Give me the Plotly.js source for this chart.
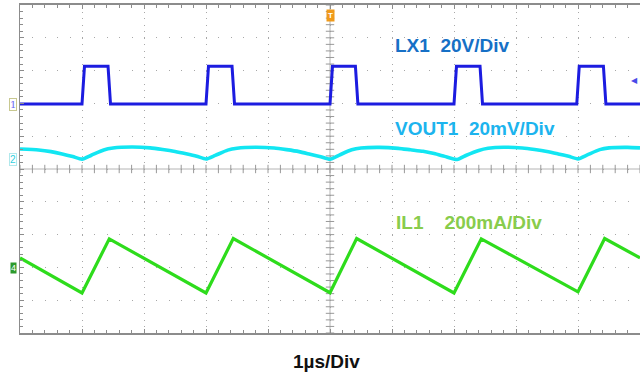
<!DOCTYPE html>
<html>
<head>
<meta charset="utf-8">
<script src="https://cdn.plot.ly/plotly-3.0.1.min.js"></script>
<style>html,body{margin:0;padding:0;background:#fff;}#chart{width:641px;height:377px;}</style>
</head>
<body>
<div id="chart"></div>
<script>
// Time axis: microseconds (1 µs/div)
const lxTime = [0, 1.00, 1.04, 1.42, 1.46, 3.00, 3.04, 3.42, 3.46, 5.00, 5.04, 5.41, 5.45, 7.00, 7.04, 7.42, 7.46, 8.98, 9.02, 9.41, 9.45, 10];
const lxVolts = [0, 0, 23, 23, 0, 0, 23, 23, 0, 0, 23, 23, 0, 0, 23, 23, 0, 0, 23, 23, 0, 0];

const voutTime = [0, 0.3, 0.5, 0.68, 0.85, 1.0, 1.15, 1.35, 1.5, 1.8, 2.1, 2.3, 2.5, 2.68, 2.85, 3.0, 3.15, 3.35, 3.5, 3.8, 4.1, 4.3, 4.5, 4.68, 4.85, 5.0, 5.15, 5.35, 5.5, 5.8, 6.1, 6.3, 6.5, 6.68, 6.85, 7.05, 7.2, 7.4, 7.55, 7.8, 8.1, 8.3, 8.5, 8.68, 8.85, 9.0, 9.15, 9.35, 9.5, 9.8, 10.0];
const voutMv = [6.2, 5.6, 4.6, 3.2, 1.6, 0.0, 2.4, 5.6, 6.8, 7.4, 6.9, 5.9, 4.7, 3.3, 1.8, 0.1, 2.3, 5.5, 6.7, 7.3, 6.8, 5.8, 4.6, 3.0, 1.5, 0.0, 2.5, 5.7, 6.8, 7.2, 6.6, 5.7, 4.8, 3.4, 1.7, -0.2, 2.4, 5.3, 6.6, 7.3, 6.8, 5.9, 4.7, 3.2, 1.7, 0.2, 2.6, 5.8, 6.9, 7.2, 6.9];

const ilTime = [0, 1.0, 1.44, 3.0, 3.44, 5.0, 5.43, 7.0, 7.44, 9.0, 9.43, 10];
const ilMa = [62, -152, 178, -152, 180, -150, 180, -152, 178, -145, 180, 62];

// channel scales (per division) and screen offsets (divisions)
const lxScale = 20, lxOffset = 1.98;
const voutScale = 20, voutOffset = 0.3;
const ilScale = 200, ilOffset = -3.02;

const toDiv = (arr, scale, off) => arr.map(v => off + v / scale);

const traces = [];
// centre graticule tick marks
const cx = [], cy = [], vx = [], vy = [];
for (let i = 0; i <= 50; i++) { cx.push(i * 0.2); cy.push(0); }
for (let i = -25; i <= 25; i++) { vx.push(5); vy.push(i * 0.2); }
traces.push({x: cx, y: cy, mode: 'markers', hoverinfo: 'skip', showlegend: false,
  marker: {symbol: 'line-ns', size: 6, line: {color: '#999', width: 1}}});
traces.push({x: vx, y: vy, mode: 'markers', hoverinfo: 'skip', showlegend: false,
  marker: {symbol: 'line-ew', size: 6, line: {color: '#999', width: 1}}});

traces.push({x: ilTime, y: toDiv(ilMa, ilScale, ilOffset), mode: 'lines', name: 'IL1',
  line: {color: '#2edc1c', width: 3.2}});
traces.push({x: voutTime, y: toDiv(voutMv, voutScale, voutOffset), mode: 'lines', name: 'VOUT1',
  line: {color: '#12e6f2', width: 3.6, shape: 'spline', smoothing: 0.6}});
traces.push({x: lxTime, y: toDiv(lxVolts, lxScale, lxOffset), mode: 'lines', name: 'LX1',
  line: {color: '#1c1ce0', width: 3}});

const lbl = {family: 'Arial, "Liberation Sans", sans-serif', size: 19};
const layout = {
  width: 641, height: 377,
  margin: {l: 20, r: 1, t: 5, b: 44},
  paper_bgcolor: '#fff', plot_bgcolor: '#fff',
  showlegend: false,
  xaxis: {range: [0, 10], dtick: 1, showticklabels: false, zeroline: false,
    showgrid: true, gridcolor: '#a8a8a8', gridwidth: 1, griddash: '1px,5.56px',
    showline: true, linecolor: '#8c8c8c', linewidth: 2, mirror: 'ticks',
    ticks: 'inside', ticklen: 4, tickcolor: '#8c8c8c',
    minor: {dtick: 0.2, ticks: 'inside', ticklen: 3, tickcolor: '#8c8c8c', showgrid: false}},
  yaxis: {range: [-5, 5], dtick: 1, showticklabels: false, zeroline: false,
    showgrid: true, gridcolor: '#a8a8a8', gridwidth: 1, griddash: '1px,11.4px',
    showline: true, linecolor: '#8c8c8c', linewidth: 1.5,
    ticks: 'inside', ticklen: 4, tickcolor: '#8c8c8c',
    minor: {dtick: 0.2, ticks: 'inside', ticklen: 3, tickcolor: '#8c8c8c', showgrid: false}},
  shapes: [
    {type: 'line', xref: 'x', yref: 'paper', x0: 5, x1: 5, y0: 0, y1: 1, line: {color: '#b4b4b4', width: 1}, layer: 'below'},
    {type: 'line', xref: 'paper', yref: 'y', x0: 0, x1: 1, y0: 0, y1: 0, line: {color: '#b4b4b4', width: 1}, layer: 'below'}
  ],
  annotations: [
    {text: '<b>LX1\u00a0\u00a020V/Div</b>', xref: 'paper', yref: 'paper', x: 0.601, y: 0.878, xanchor: 'left', yanchor: 'middle', showarrow: false, font: Object.assign({}, lbl, {color: '#1670c6'})},
    {text: '<b>VOUT1\u00a0\u00a020mV/Div</b>', xref: 'paper', yref: 'paper', x: 0.601, y: 0.622, xanchor: 'left', yanchor: 'middle', showarrow: false, font: Object.assign({}, lbl, {color: '#1cb4ee'})},
    {text: '<b>IL1\u00a0\u00a0\u00a0\u00a0200mA/Div</b>', xref: 'paper', yref: 'paper', x: 0.604, y: 0.338, xanchor: 'left', yanchor: 'middle', showarrow: false, font: Object.assign({}, lbl, {color: '#88cc4c'})},
    {text: '<b>1µs/Div</b>', xref: 'paper', yref: 'paper', x: 0.495, y: -0.088, xanchor: 'center', yanchor: 'middle', showarrow: false, font: Object.assign({}, lbl, {size: 19, color: '#111'})},
    {text: '1', xref: 'paper', yref: 'y', x: 0, y: lxOffset, xanchor: 'right', yanchor: 'middle', xshift: -3, showarrow: false, font: {family: 'DejaVu Serif, serif', size: 10, color: '#6a6af4'}, bordercolor: '#c8c890', borderwidth: 1, borderpad: 0},
    {text: '2', xref: 'paper', yref: 'y', x: 0, y: voutOffset, xanchor: 'right', yanchor: 'middle', xshift: -3, showarrow: false, font: {family: 'Arial, sans-serif', size: 10, color: '#30d0e0'}, bordercolor: '#b0e8ec', borderwidth: 1, borderpad: 0},
    {text: '4', xref: 'paper', yref: 'y', x: 0, y: ilOffset, xanchor: 'right', yanchor: 'middle', xshift: -3, showarrow: false, font: {family: 'Arial, sans-serif', size: 9, color: '#ffffff'}, bgcolor: '#2c9a2c', borderpad: 0},
    {text: '<b>T</b>', xref: 'x', yref: 'paper', x: 5, y: 1, xanchor: 'center', yanchor: 'top', yshift: -4, showarrow: false, font: {family: 'Arial, sans-serif', size: 8, color: '#ffffff'}, bgcolor: '#f09a1a', borderpad: 1},
    {text: '◀', xref: 'paper', yref: 'y', x: 1, y: 2.71, xanchor: 'right', yanchor: 'middle', showarrow: false, font: {family: 'DejaVu Sans, sans-serif', size: 8, color: '#4a4ae8'}}
  ]
};
Plotly.newPlot('chart', traces, layout, {displayModeBar: false, staticPlot: true});
</script>
</body>
</html>
